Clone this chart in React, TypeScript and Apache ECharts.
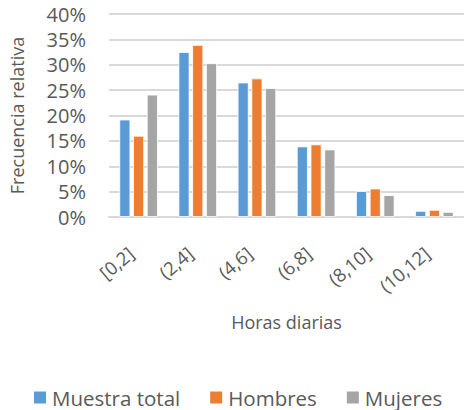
import React, { useEffect, useRef } from "react";
import * as echarts from "echarts";

const categories = ["[0,2]", "(2,4]", "(4,6]", "(6,8]", "(8,10]", "(10,12]"];
const muestraTotal = [19.2, 32.5, 26.5, 13.9, 5.1, 1.2];
const hombres = [16.0, 33.9, 27.3, 14.3, 5.6, 1.4];
const mujeres = [24.1, 30.3, 25.4, 13.3, 4.3, 1.0];
const seriesNames = ["Muestra total", "Hombres", "Mujeres"];
const colors = ["#5b9bd5", "#ed7d31", "#a5a5a5"];

const FONT = "Open Sans";
const TXT = "#595959";

export default function App() {
  const ref = useRef<HTMLDivElement>(null);
  useEffect(() => {
    if (!ref.current) return;
    document.body.style.margin = "0";
    const chart = echarts.init(ref.current, null, { renderer: "svg" });
    const mk = (name: string, data: number[], color: string) => ({
      name,
      type: "bar",
      data,
      barWidth: 11,
      barGap: "25%",
      itemStyle: { color, borderColor: "#ffffff", borderWidth: 0.8 },
    });
    chart.setOption({
      animation: false,
      textStyle: { fontFamily: FONT },
      color: colors,
      grid: { left: 101, top: 14, width: 368, height: 203 },
      legend: {
        top: 387,
        left: 32,
        itemWidth: 14,
        itemHeight: 14,
        itemGap: 28,
        icon: "rect",
        padding: 0,
        textStyle: { fontFamily: FONT, fontSize: 20.5, color: TXT },
        data: seriesNames,
      },
      xAxis: {
        type: "category",
        data: categories,
        name: "Horas diarias",
        nameLocation: "middle",
        nameGap: 96,
        nameTextStyle: { fontFamily: FONT, fontSize: 18, color: TXT },
        axisLine: { lineStyle: { color: "#d9d9d9", width: 2 } },
        axisTick: { show: false },
        axisLabel: {
          rotate: 40,
          fontFamily: FONT,
          fontSize: 18.5,
          color: TXT,
          margin: 27,
          padding: [0, 10, 0, 0],
        },
      },
      yAxis: {
        type: "value",
        min: 0,
        max: 40,
        interval: 5,
        name: "Frecuencia relativa",
        nameLocation: "middle",
        nameGap: 83,
        nameTextStyle: { fontFamily: FONT, fontSize: 18, color: TXT },
        axisLine: { show: false },
        axisTick: { show: false },
        axisLabel: { formatter: "{value}%", fontFamily: FONT, fontSize: 20, color: TXT, margin: 23 },
        splitLine: { lineStyle: { color: "#d9d9d9", width: 2 } },
      },
      series: [
        mk(seriesNames[0], muestraTotal, colors[0]),
        mk(seriesNames[1], hombres, colors[1]),
        mk(seriesNames[2], mujeres, colors[2]),
      ],
    });
    return () => chart.dispose();
  }, []);
  return <div ref={ref} style={{ width: 464, height: 410 }} />;
}
